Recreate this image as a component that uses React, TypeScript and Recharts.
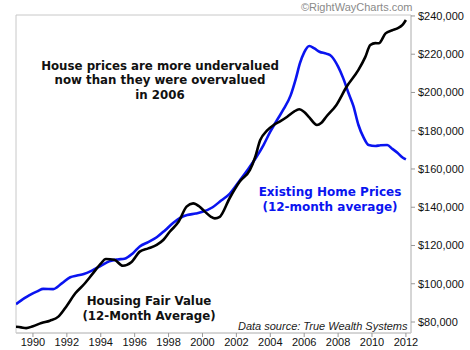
import React from "react";
import { LineChart, Line, XAxis, YAxis, ReferenceArea } from "recharts";

// Existing Home Prices (12-month average)
const homeYears = [
  1989.0, 1989.5, 1989.8, 1990.3, 1990.6, 1991.2, 1991.7, 1992.2, 1992.6, 1993.0,
  1993.5, 1994.0, 1994.5, 1995.0, 1995.4, 1995.9, 1996.3, 1996.8, 1997.3, 1997.8,
  1998.3, 1998.7, 1999.1, 1999.6, 2000.0, 2000.6, 2001.1, 2001.6, 2002.2, 2002.7,
  2003.2, 2003.6, 2004.0, 2004.4, 2004.8, 2005.2, 2005.5, 2005.75, 2006.0, 2006.3,
  2006.6, 2006.9, 2007.3, 2007.6, 2008.0, 2008.3, 2008.6, 2008.9, 2009.2, 2009.5,
  2009.8, 2010.2, 2010.5, 2010.9, 2011.2, 2011.5, 2011.8, 2012.0
];
const homeValues = [
  89300, 92500, 94100, 96200, 97300, 97200, 100200, 103400, 104300, 105100,
  107000, 109300, 111700, 112700, 113100, 116000, 119500, 121800, 124300, 128000,
  132000, 134500, 135900, 136700, 137600, 140000, 143500, 147000, 154000, 160000,
  166500, 172500, 179500, 185600, 191500, 198500, 207000, 215300, 221000, 224300,
  223000, 221300, 220300, 219000, 213500, 207500, 200000, 193000, 183000, 176500,
  172500, 172000, 172400, 172500, 170500, 168500, 166000, 165000
];

// Housing Fair Value (12-month average)
const fairYears = [
  1989.0, 1989.3, 1989.6, 1990.0, 1990.5, 1991.0, 1991.5, 1992.0, 1992.5, 1993.0,
  1993.5, 1994.0, 1994.3, 1994.8, 1995.3, 1995.8, 1996.3, 1996.8, 1997.3, 1997.7,
  1998.07, 1998.6, 1999.06, 1999.45, 1999.8, 2000.14, 2000.5, 2000.73, 2001.02, 2001.6,
  2002.2, 2002.8, 2003.1, 2003.4, 2003.8, 2004.2, 2004.6, 2005.0, 2005.4, 2005.7,
  2006.0, 2006.3, 2006.75, 2007.0, 2007.3, 2007.9, 2008.5, 2009.2, 2009.6, 2009.9,
  2010.2, 2010.4, 2010.8, 2011.2, 2011.5, 2011.8, 2012.0
];
const fairValues = [
  77500, 77200, 76800, 77800, 79500, 80700, 82800, 88500, 95000, 99600,
  105000, 110500, 112900, 112500, 109400, 111200, 116800, 118500, 120300, 123000,
  127200, 132500, 140300, 142000, 140500, 137700, 135000, 134200, 135000, 144700,
  153400, 159500, 166000, 175000, 180000, 183000, 185000, 187300, 190000, 191200,
  189800, 187000, 183000, 184000, 187300, 193500, 203000, 211800, 218500, 224800,
  225800, 225700, 230900, 232500, 233500, 235300, 237900
];

const yearTicks = [1990, 1992, 1994, 1996, 1998, 2000, 2002, 2004, 2006, 2008, 2010, 2012];
const priceTicks = [80000, 100000, 120000, 140000, 160000, 180000, 200000, 220000, 240000];

const homeData = homeYears.map((year, i) => ({ year, value: homeValues[i] }));
const fairData = fairYears.map((year, i) => ({ year, value: fairValues[i] }));

if (typeof document !== "undefined") document.body.style.margin = "0";

const boldFont = "'DejaVu Sans', Verdana, sans-serif";
const plainFont = "'Liberation Sans', Arial, sans-serif";
const border = "#c8c8c8";

export default function App() {
  return (
    <div style={{ position: "relative", width: 470, height: 350, background: "#fff" }}>
      <LineChart
        width={470}
        height={350}
        margin={{ top: 15, right: 0, bottom: 0, left: 16 }}
      >
        <XAxis
          type="number"
          dataKey="year"
          domain={[1989, 2012.3]}
          ticks={yearTicks}
          allowDataOverflow
          height={17}
          tickSize={4}
          tickMargin={1}
          axisLine={{ stroke: border }}
          tickLine={{ stroke: "#999" }}
          tick={{ fill: "#111", fontSize: 11, fontFamily: plainFont }}
          interval={0}
        />
        <YAxis
          orientation="right"
          type="number"
          domain={[74250, 240500]}
          ticks={priceTicks}
          allowDataOverflow
          width={59}
          tickSize={4}
          tickMargin={3}
          axisLine={{ stroke: border }}
          tickLine={{ stroke: "#999" }}
          tick={{ fill: "#111", fontSize: 11, fontFamily: plainFont, textAnchor: "start" }}
          tickFormatter={(v: number) => `$${v.toLocaleString("en-US")}`}
          interval={0}
        />
        <ReferenceArea
          x1={1989}
          x2={2012.3}
          y1={74250}
          y2={240500}
          fill="none"
          stroke={border}
          strokeOpacity={1}
        />
        <Line
          data={homeData}
          dataKey="value"
          type="monotone"
          stroke="#0a14f0"
          strokeWidth={2.6}
          dot={false}
          isAnimationActive={false}
        />
        <Line
          data={fairData}
          dataKey="value"
          type="monotone"
          stroke="#000"
          strokeWidth={2.6}
          dot={false}
          isAnimationActive={false}
        />
      </LineChart>

      <div
        style={{
          position: "absolute", right: 470 - 412.5, top: 0, textAlign: "right",
          fontFamily: plainFont, fontSize: 11, lineHeight: "14px", color: "#8a8a8a",
          whiteSpace: "nowrap"
        }}
      >
        ©RightWayCharts.com
      </div>

      <div
        style={{
          position: "absolute", left: 10, top: 58.5, width: 300, textAlign: "center",
          fontFamily: boldFont, fontWeight: "bold", fontSize: 11.8, lineHeight: "14.8px",
          color: "#111"
        }}
      >
        House prices are more undervalued
        <br />
        now than they were overvalued
        <br />
        in 2006
      </div>

      <div
        style={{
          position: "absolute", left: 230, top: 185, width: 200, textAlign: "center",
          fontFamily: boldFont, fontWeight: "bold", fontSize: 12, lineHeight: "15px",
          color: "#0a14f0"
        }}
      >
        Existing Home Prices
        <br />
        (12-month average)
      </div>

      <div
        style={{
          position: "absolute", left: 49, top: 293.5, width: 200, textAlign: "center",
          fontFamily: boldFont, fontWeight: "bold", fontSize: 11.8, lineHeight: "15.5px",
          color: "#111"
        }}
      >
        Housing Fair Value
        <br />
        (12-Month Average)
      </div>

      <div
        style={{
          position: "absolute", right: 470 - 407.5, top: 319.5, textAlign: "right",
          fontFamily: plainFont, fontStyle: "italic", fontSize: 11, lineHeight: "13px",
          color: "#222", whiteSpace: "nowrap"
        }}
      >
        Data source: True Wealth Systems
      </div>
    </div>
  );
}
